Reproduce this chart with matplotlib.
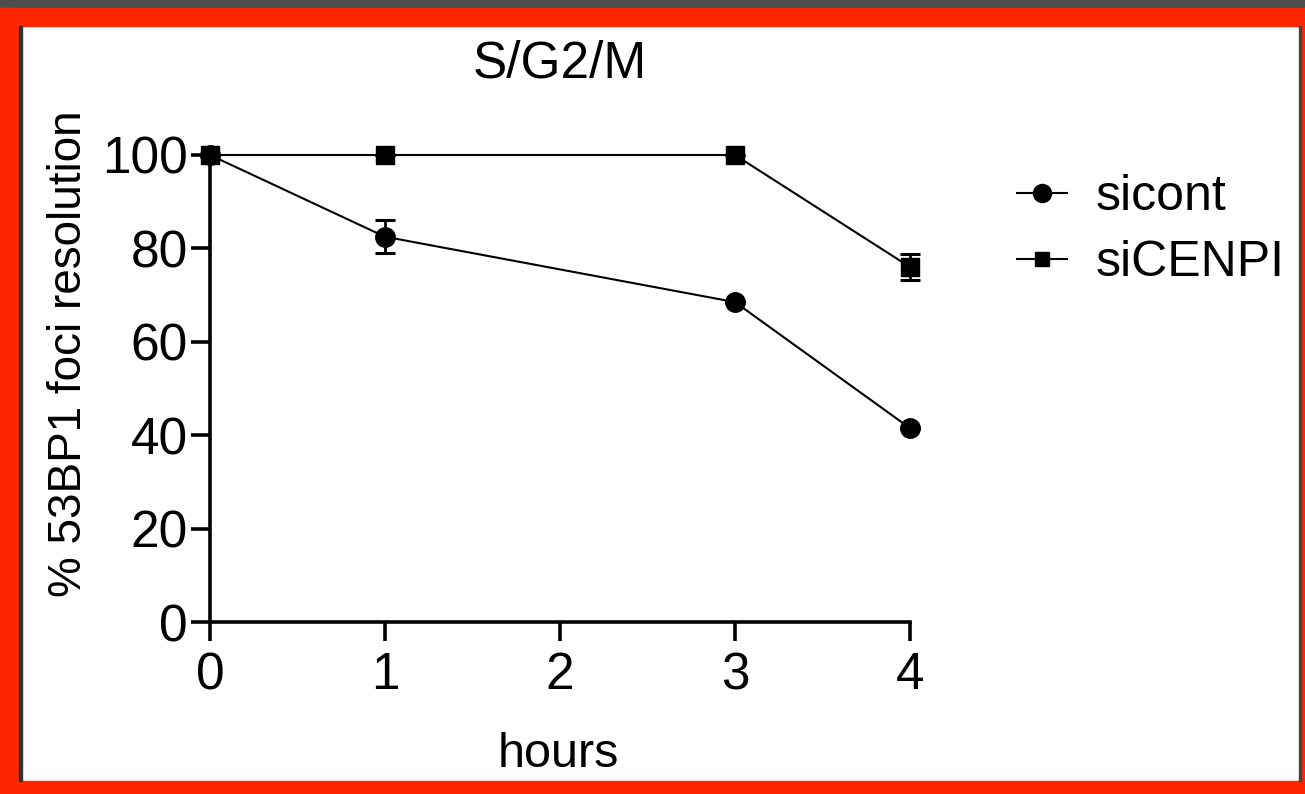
import matplotlib
matplotlib.use("Agg")
import matplotlib.pyplot as plt
from matplotlib.patches import Rectangle
from matplotlib.lines import Line2D

plt.rcParams['font.family'] = ['Liberation Sans', 'DejaVu Sans']

hours = [0, 1, 3, 4]
sicont = [100, 82.5, 68.5, 41.5]
sicont_err = [0, 3.5, 0, 0]
sicenpi = [100, 100, 100, 76]
sicenpi_err = [0, 0, 0, 2.8]
xticks = [0, 1, 2, 3, 4]
yticks = [0, 20, 40, 60, 80, 100]

W, H = 1305, 794
fig = plt.figure(figsize=(W / 100, H / 100), dpi=100)
fig.patch.set_facecolor('white')

def px(x, y):
    return x / W, 1 - y / H

# frame decorations
red = '#ff2600'
fig.patches.append(Rectangle((0, 1 - 8 / H), 1, 8 / H, transform=fig.transFigure, color='#4d4d4d', zorder=0))
fig.patches.append(Rectangle((0, 1 - 26 / H), 1, 18 / H, transform=fig.transFigure, color=red, zorder=0))
fig.patches.append(Rectangle((0, 0), 19 / W, 1 - 8 / H, transform=fig.transFigure, color=red, zorder=0))
fig.patches.append(Rectangle((1301 / W, 0), 4 / W, 1 - 8 / H, transform=fig.transFigure, color=red, zorder=0))
fig.patches.append(Rectangle((0, 0), 1, 13 / H, transform=fig.transFigure, color=red, zorder=0))
fig.patches.append(Rectangle((19 / W, 13 / H), 3 / W, 1 - 39 / H, transform=fig.transFigure, color='#333333', zorder=0))
fig.patches.append(Rectangle((1299 / W, 13 / H), 2 / W, 1 - 39 / H, transform=fig.transFigure, color='#444444', zorder=0))

ax = fig.add_axes([210 / W, 1 - 622 / H, 700 / W, (622 - 155) / H])
ax.set_xlim(0, 4)
ax.set_ylim(0, 100)

ax.errorbar(hours, sicont, yerr=sicont_err, color='black', lw=1.5, marker='o', ms=14,
            capsize=7, capthick=2.2, elinewidth=2, clip_on=False, zorder=3)
ax.errorbar(hours, sicenpi, yerr=sicenpi_err, color='black', lw=1.5, marker='s', ms=12.5,
            capsize=7, capthick=2.2, elinewidth=2, clip_on=False, zorder=3)

for s in ['top', 'right']:
    ax.spines[s].set_visible(False)
for s in ['left', 'bottom']:
    ax.spines[s].set_linewidth(2.6)
    ax.spines[s].set_capstyle('projecting')

ax.set_xticks(xticks)
ax.set_yticks(yticks)
ax.tick_params(axis='both', direction='out', length=14, width=2.6, labelsize=37)
ax.tick_params(axis='x', pad=7)
ax.tick_params(axis='y', pad=2)

fig.text(*px(560, 78), 'S/G2/M', fontsize=37, ha='center', va='baseline')
fig.text(*px(558, 767), 'hours', fontsize=35, ha='center', va='baseline')
fig.text(*px(69, 354), '% 53BP1 foci resolution', fontsize=33, ha='center', va='center',
         rotation=90)

handles = [Line2D([], [], color='black', lw=1.5, marker='o', ms=13),
           Line2D([], [], color='black', lw=1.5, marker='s', ms=10.5)]
ax.legend(handles, ['sicont', 'siCENPI'], loc='center left',
          bbox_to_anchor=px(1017, 230), bbox_transform=fig.transFigure, frameon=False,
          fontsize=36, handlelength=1.0, handletextpad=0.58, labelspacing=0.4,
          borderpad=0, borderaxespad=0)

fig.savefig('out.png', dpi=100, facecolor='white')
